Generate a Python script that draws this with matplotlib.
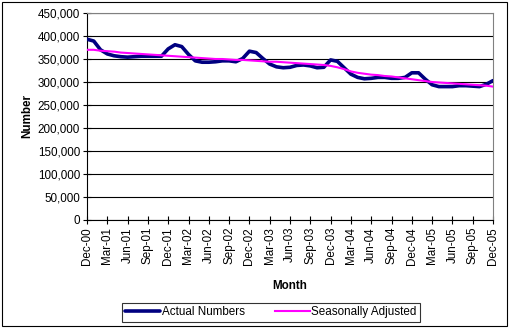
import matplotlib
matplotlib.use("Agg")
import matplotlib.pyplot as plt
from matplotlib.patches import Rectangle
from matplotlib.ticker import FuncFormatter, MultipleLocator

months = ["Dec-00","Jan-01","Feb-01","Mar-01","Apr-01","May-01","Jun-01","Jul-01","Aug-01","Sep-01","Oct-01","Nov-01",
          "Dec-01","Jan-02","Feb-02","Mar-02","Apr-02","May-02","Jun-02","Jul-02","Aug-02","Sep-02","Oct-02","Nov-02",
          "Dec-02","Jan-03","Feb-03","Mar-03","Apr-03","May-03","Jun-03","Jul-03","Aug-03","Sep-03","Oct-03","Nov-03",
          "Dec-03","Jan-04","Feb-04","Mar-04","Apr-04","May-04","Jun-04","Jul-04","Aug-04","Sep-04","Oct-04","Nov-04",
          "Dec-04","Jan-05","Feb-05","Mar-05","Apr-05","May-05","Jun-05","Jul-05","Aug-05","Sep-05","Oct-05","Nov-05",
          "Dec-05"]

actual = [393000, 389000, 370000, 361000, 357000, 355000, 354000, 355000, 356000, 356000, 356000, 356000,
          372000, 381000, 377000, 360000, 346000, 343000, 343000, 344000, 346000, 346000, 344000, 351000,
          367000, 364000, 351000, 339000, 333000, 331000, 332000, 336000, 337000, 335000, 331000, 332000,
          348000, 345000, 331000, 317000, 310000, 307000, 308000, 310000, 310000, 308000, 308000, 310000,
          320000, 320000, 306000, 294000, 290000, 290000, 290000, 292000, 292000, 291000, 290000, 295000,
          303000]

seasonal = [370000, 370000, 368000, 367000, 366000, 364000, 363000, 362000, 361000, 360000, 359000, 358000,
            357000, 356000, 355000, 354000, 353000, 352000, 351000, 350000, 350000, 349000, 348000, 348000,
            347000, 346000, 345000, 344000, 344000, 343000, 342000, 341000, 340000, 339000, 338000, 337000,
            335000, 332000, 328000, 323000, 320000, 318000, 316000, 315000, 313000, 312000, 310000, 308000,
            306000, 304000, 302000, 300000, 299000, 298000, 297000, 296000, 295000, 294000, 293000, 292000,
            290000]

plt.rcParams['font.family'] = ['Liberation Sans', 'DejaVu Sans']

W, H = 509, 329
FS = 8.4
fig = plt.figure(figsize=(W/100, H/100), dpi=100)
ax = fig.add_axes([87/W, 1-220/H, (493-87)/W, (220-13)/H])

x = list(range(len(months)))
ax.plot(x, actual, color='#000080', lw=2.6, label='Actual Numbers', solid_capstyle='round', zorder=3)
ax.plot(x, seasonal, color='#FF00FF', lw=1.5, label='Seasonally Adjusted', zorder=4)

ax.set_xlim(0, len(months)-1)
ax.set_ylim(0, 450000)
ax.yaxis.set_major_locator(MultipleLocator(50000))
ax.yaxis.set_major_formatter(FuncFormatter(lambda v, p: f"{int(v):,}"))
ax.set_xticks(x[::3])
ax.set_xticklabels(months[::3], rotation=90, fontsize=FS)
ax.tick_params(axis='y', labelsize=FS, direction='inout', length=6, width=0.8, pad=2)
ax.tick_params(axis='x', direction='inout', length=6, width=0.8, pad=2)
ax.grid(axis='y', color='black', lw=0.8)
ax.set_axisbelow(True)
for s in ['left', 'bottom']:
    ax.spines[s].set_color('black'); ax.spines[s].set_linewidth(0.8)
for s in ['top', 'right']:
    ax.spines[s].set_color('#808080'); ax.spines[s].set_linewidth(0.8)

ax.set_ylabel('Number', fontsize=FS, fontweight='bold', labelpad=3)
ax.set_xlabel('Month', fontsize=FS, fontweight='bold', labelpad=11)

leg = fig.legend(loc='center', bbox_to_anchor=(271/W, 1-312/H), ncol=2, fontsize=FS,
                 frameon=True, fancybox=False, edgecolor='black', handlelength=3.0,
                 columnspacing=2.6, handletextpad=0.1, borderpad=0.3)
leg.get_frame().set_linewidth(0.8)

fig.patches.append(Rectangle((2/W, 1-326/H), 505/W, 324/H, transform=fig.transFigure,
                             fill=False, edgecolor='black', lw=0.8))

fig.savefig('out.png', dpi=100)
